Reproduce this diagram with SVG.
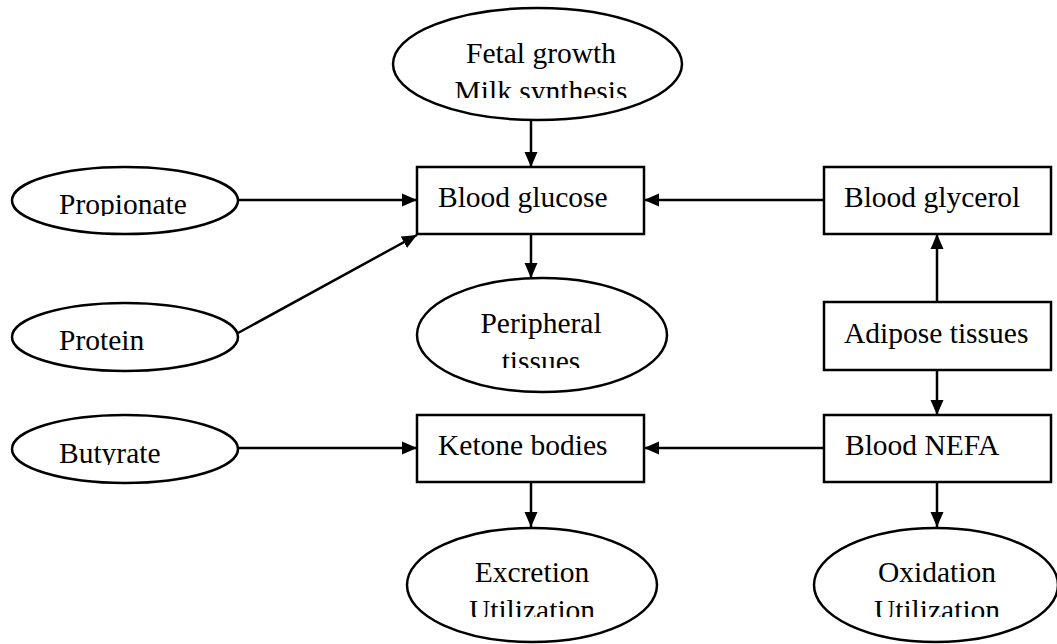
<svg xmlns="http://www.w3.org/2000/svg" width="1057" height="644" viewBox="0 0 1057 644">
<style>
.shape{fill:#fff;stroke:#000;stroke-width:2.5}
.lbl{font-family:"Liberation Serif","Times New Roman",serif;font-size:29.5px;fill:#000}
.mid{text-anchor:middle}
.conn{stroke:#000;stroke-width:2.5;fill:none}
</style>
<defs>
<marker id="ah" markerUnits="userSpaceOnUse" markerWidth="16" markerHeight="14" refX="15" refY="7" orient="auto">
<path d="M0,0.5 L15,7 L0,13.5 Z" fill="#000"/>
</marker>
<clipPath id="cFetal"><rect x="380" y="0" width="320" height="98"/></clipPath>
<clipPath id="cPeri"><rect x="400" y="270" width="280" height="98"/></clipPath>
<clipPath id="cExc"><rect x="400" y="520" width="280" height="97"/></clipPath>
<clipPath id="cOxi"><rect x="800" y="520" width="257" height="97"/></clipPath>
<clipPath id="cProp"><rect x="0" y="160" width="250" height="56"/></clipPath>
<clipPath id="cButy"><rect x="0" y="410" width="250" height="55"/></clipPath>
</defs>

<g id="connectors">
<line class="conn" x1="531" y1="120" x2="531" y2="167" marker-end="url(#ah)"/>
<line class="conn" x1="238" y1="200" x2="417" y2="200" marker-end="url(#ah)"/>
<line class="conn" x1="238" y1="333" x2="417" y2="235" marker-end="url(#ah)"/>
<line class="conn" x1="824" y1="200" x2="644" y2="200" marker-end="url(#ah)"/>
<line class="conn" x1="531" y1="234" x2="531" y2="278" marker-end="url(#ah)"/>
<line class="conn" x1="937" y1="302" x2="937" y2="234" marker-end="url(#ah)"/>
<line class="conn" x1="937" y1="370" x2="937" y2="415" marker-end="url(#ah)"/>
<line class="conn" x1="238" y1="448" x2="417" y2="448" marker-end="url(#ah)"/>
<line class="conn" x1="824" y1="448" x2="644" y2="448" marker-end="url(#ah)"/>
<line class="conn" x1="531" y1="482" x2="531" y2="527" marker-end="url(#ah)"/>
<line class="conn" x1="937" y1="482" x2="937" y2="527" marker-end="url(#ah)"/>
</g>

<g id="fetal">
<ellipse class="shape" cx="537.5" cy="64" rx="144.5" ry="56"/>
<g clip-path="url(#cFetal)">
<text class="lbl mid" x="541" y="63">Fetal growth</text>
<text class="lbl mid" x="541" y="101">Milk synthesis</text>
</g>
</g>

<g id="propionate">
<ellipse class="shape" cx="125" cy="200.5" rx="113" ry="33.5"/>
<text class="lbl" x="59" y="214" clip-path="url(#cProp)">Propionate</text>
</g>

<g id="blood-glucose">
<rect class="shape" x="417" y="167" width="227" height="67"/>
<text class="lbl" x="438" y="207">Blood glucose</text>
</g>

<g id="blood-glycerol">
<rect class="shape" x="824" y="167" width="227" height="67"/>
<text class="lbl" x="844" y="207">Blood glycerol</text>
</g>

<g id="protein">
<ellipse class="shape" cx="125" cy="337" rx="113" ry="34"/>
<text class="lbl" x="59" y="350">Protein</text>
</g>

<g id="peripheral">
<ellipse class="shape" cx="542" cy="335" rx="125" ry="57"/>
<g clip-path="url(#cPeri)">
<text class="lbl mid" x="541" y="333">Peripheral</text>
<text class="lbl mid" x="541" y="371">tissues</text>
</g>
</g>

<g id="adipose">
<rect class="shape" x="824" y="302" width="227" height="68"/>
<text class="lbl" x="844" y="343">Adipose tissues</text>
</g>

<g id="butyrate">
<ellipse class="shape" cx="125" cy="449" rx="113" ry="34"/>
<text class="lbl" x="59" y="463" clip-path="url(#cButy)">Butyrate</text>
</g>

<g id="ketone">
<rect class="shape" x="417" y="415" width="227" height="67"/>
<text class="lbl" x="438" y="455">Ketone bodies</text>
</g>

<g id="nefa">
<rect class="shape" x="824" y="415" width="227" height="67"/>
<text class="lbl" x="845" y="455">Blood NEFA</text>
</g>

<g id="excretion">
<ellipse class="shape" cx="532" cy="585" rx="125" ry="57"/>
<g clip-path="url(#cExc)">
<text class="lbl mid" x="532" y="582">Excretion</text>
<text class="lbl mid" x="532" y="620">Utilization</text>
</g>
</g>

<g id="oxidation">
<ellipse class="shape" cx="936" cy="585" rx="122" ry="57"/>
<g clip-path="url(#cOxi)">
<text class="lbl mid" x="937" y="582">Oxidation</text>
<text class="lbl mid" x="937" y="620">Utilization</text>
</g>
</g>
</svg>
